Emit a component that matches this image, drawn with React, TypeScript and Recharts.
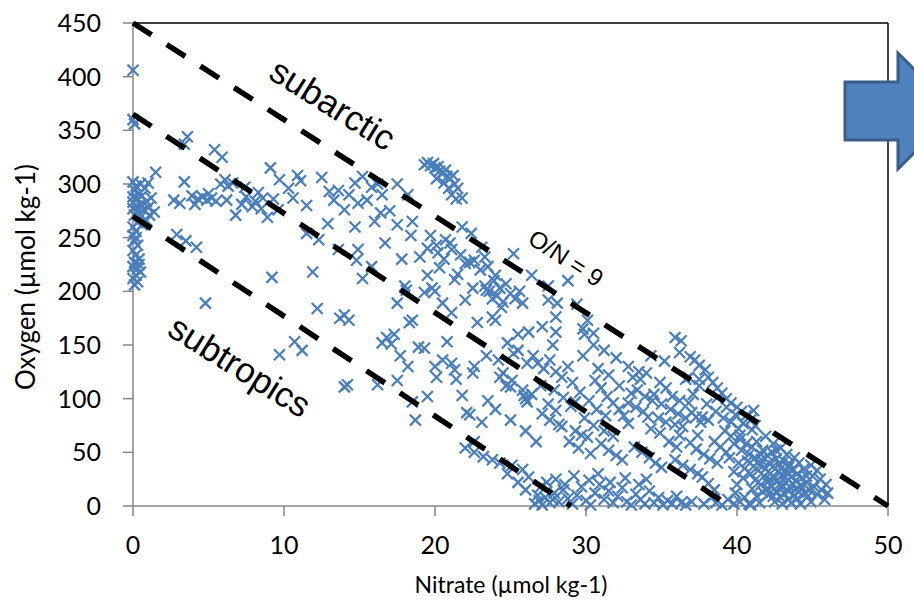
import React from 'react';
import { ScatterChart, Scatter, XAxis, YAxis, ReferenceLine } from 'recharts';

// Nitrate vs oxygen. Each entry is [nitrate, oxygen] in µmol kg-1.

const X_TICKS = [0, 10, 20, 30, 40, 50];
const Y_TICKS = [0, 50, 100, 150, 200, 250, 300, 350, 400, 450];

const surfaceColumn: [number, number][] = [
  [0, 406], [0, 360], [0.1, 356], [0, 302], [0.2, 298], [0.5, 300], [0.1, 294], [0.4, 291],
  [0.8, 296], [1.0, 301], [0, 288], [0.3, 286], [0.6, 289], [1.2, 287], [0, 283], [0.2, 280],
  [0.5, 281], [0.9, 284], [0, 277], [0.3, 275], [0.7, 276], [1.0, 278], [0.1, 271], [0.5, 269],
  [1.1, 271], [1.4, 274], [0.9, 266], [1.5, 311], [0.3, 264], [0, 260], [0.2, 256], [0, 252],
  [0.1, 247], [0.3, 243], [0, 238], [0.2, 234], [0.4, 230], [0.1, 227], [0, 223], [0.3, 221],
  [0.5, 218], [0.2, 215], [0, 212], [0.3, 209], [0.1, 206], [0.4, 225], [0.2, 250], [0.6, 262],
];

const upperBand: [number, number][] = [
  [2.7, 285], [3.1, 282], [3.4, 302], [3.6, 344], [3.4, 337], [2.9, 253], [3.5, 247], [4.2, 241],
  [4.8, 189], [3.9, 289], [4.3, 286], [4.6, 288], [4.9, 285], [5.2, 287], [5.5, 284], [4.1, 281],
  [5.0, 291], [5.4, 332], [5.9, 325], [5.8, 300], [6.1, 304], [6.3, 298], [6.6, 301], [6.8, 271],
  [6.2, 285], [7.2, 281], [7.5, 288], [7.9, 279], [8.1, 284], [8.3, 292], [8.6, 287], [7.4, 297],
  [8.9, 269], [9.1, 315], [9.7, 304], [9.3, 286], [9.6, 276], [8.5, 277], [9.2, 213], [10.9, 308],
  [11.1, 303], [11.5, 280], [11.5, 254], [11.9, 218], [12.2, 184], [10.3, 296], [10.6, 287],
  [12.3, 248], [12.9, 263], [13.0, 293], [10.7, 153], [11.2, 145], [9.7, 141],
];

const midScatter: [number, number][] = [
  [13.6, 294], [14.7, 301], [15.2, 307], [14.9, 282], [14.0, 276], [14.7, 260], [16.4, 273],
  [14.9, 239], [13.6, 239], [15.8, 223], [14.8, 229], [15.2, 212], [13.7, 175], [14.0, 178],
  [14.3, 173], [16.8, 157], [17.1, 151], [16.5, 152], [17.5, 189], [18.5, 173], [17.3, 160],
  [18.5, 97], [19.5, 102], [18.7, 80], [16.2, 113], [17.5, 117], [14.0, 111], [14.2, 113],
  [18.0, 205], [17.0, 275], [16.5, 290], [15.8, 297], [17.5, 300], [18.2, 290], [18.5, 265],
  [16.0, 265], [17.5, 262], [18.4, 252], [19.0, 232], [19.5, 215], [17.8, 230], [16.7, 245],
  [18.9, 148], [19.3, 147], [20.8, 153], [18.2, 130], [17.7, 140], [12.5, 306], [13.3, 285],
  [14.3, 290], [15.5, 285], [16.2, 300], [18.1, 201], [18.3, 171],
];

const clusterNear20: [number, number][] = [
  [19.3, 318], [19.5, 320], [19.7, 317], [19.9, 319], [20.0, 315], [20.2, 316], [20.3, 312],
  [20.5, 310], [20.7, 313], [20.8, 307], [21.0, 305], [21.2, 308], [21.3, 300], [21.5, 296],
  [21.1, 290], [20.6, 301], [21.4, 286], [21.8, 287], [20.1, 305], [20.9, 296],
];

const upperRight: [number, number][] = [
  [19.7, 252], [20.1, 243], [20.7, 248], [21.1, 239], [21.7, 234], [22.3, 227], [20.3, 222],
  [21.3, 211], [19.3, 199], [23.0, 220], [22.0, 192], [19.8, 203], [20.0, 200], [20.5, 189],
  [21.1, 180], [19.5, 240], [20.2, 236], [20.6, 230], [21.0, 245], [21.8, 260], [22.4, 254],
  [23.1, 241], [23.3, 232], [23.5, 223], [22.6, 229], [22.0, 226], [23.3, 205], [23.6, 200],
  [23.9, 210], [24.1, 196], [24.3, 203], [24.5, 190], [24.0, 215], [24.7, 207], [25.0, 198],
  [25.3, 193], [25.6, 200], [25.8, 189], [23.8, 193], [24.4, 185], [22.8, 171], [23.8, 176],
  [24.0, 173], [26.2, 162], [27.1, 167], [28.0, 176], [28.0, 162], [27.5, 192], [28.1, 189],
  [27.5, 205], [28.8, 210], [29.4, 188], [29.9, 160], [30.1, 173], [24.8, 152], [25.5, 145],
  [26.4, 215], [25.2, 235], [22.5, 203], [23.4, 201], [21.5, 216], [29.8, 165], [30.5, 161],
];

const middleBand: [number, number][] = [
  [20.0, 130], [20.5, 136], [21.1, 133], [21.3, 127], [22.5, 124], [22.6, 130], [22.3, 85],
  [23.1, 78], [22.0, 54], [22.6, 50], [23.2, 46], [23.8, 43], [24.3, 120], [24.7, 112],
  [25.1, 117], [24.5, 124], [25.0, 111], [25.8, 108], [26.0, 100], [26.4, 104], [26.1, 97],
  [25.9, 103], [26.8, 133], [27.2, 128], [27.6, 136], [28.0, 125], [28.4, 120], [28.8, 130],
  [27.5, 95], [28.0, 89], [28.5, 101], [29.0, 93], [29.3, 97], [27.1, 86], [27.6, 80],
  [28.2, 76], [28.4, 74], [29.3, 70], [29.7, 66], [30.1, 64], [30.6, 117], [31.0, 110],
  [31.4, 102], [31.8, 96], [32.2, 90], [32.5, 84], [32.8, 77], [31.0, 58], [31.5, 52],
  [32.0, 47], [32.4, 43], [30.5, 150], [31.2, 145], [32.0, 138], [32.8, 130], [33.5, 125],
  [31.5, 122], [30.8, 128], [32.2, 112], [33.0, 105], [29.8, 140], [25.5, 160], [26.5, 140],
  [27.8, 150], [21.8, 103], [23.5, 98], [24.0, 90], [25.0, 80], [26.0, 70], [26.7, 60],
  [23.4, 140], [24.2, 136], [25.2, 142], [26.1, 133], [20.1, 120], [21.4, 118], [22.1, 87],
  [22.6, 60], [24.3, 40], [25.1, 38], [25.8, 34], [26.2, 27], [24.8, 30], [25.5, 22], [26.0, 15],
  [27.0, 112], [27.9, 108], [29.1, 115], [29.6, 106], [30.2, 98], [30.7, 90], [31.3, 84],
  [29.9, 82], [30.5, 75], [31.2, 70], [28.9, 60], [29.5, 54], [30.3, 49], [31.8, 65],
];

const lowerEdge: [number, number][] = [
  [35.9, 157], [36.3, 154], [36.9, 139], [37.2, 136], [37.5, 131], [37.9, 127], [38.1, 120],
  [38.4, 115], [38.7, 110], [39.0, 105], [39.3, 100], [39.6, 96], [40.0, 92], [40.3, 88],
  [40.6, 84], [40.9, 80], [41.2, 75], [41.0, 71], [38.7, 101], [39.3, 92], [39.9, 85],
  [40.4, 77], [41.1, 89], [37.5, 112], [38.0, 95], [36.6, 118], [37.1, 104],
  [33.1, 120], [33.6, 118], [34.0, 124], [34.9, 115], [35.3, 110], [35.7, 102], [36.2, 98],
  [36.8, 96], [34.5, 104], [33.4, 108], [32.8, 96], [33.3, 92], [33.8, 88], [34.1, 83],
  [34.8, 82], [35.3, 78], [35.9, 76], [36.4, 74], [37.0, 87], [37.3, 83], [37.7, 83],
  [38.1, 80], [37.6, 78], [34.3, 72], [34.9, 68], [33.2, 55], [33.7, 50], [34.2, 45],
  [34.6, 40], [35.0, 36], [35.9, 43], [36.4, 38], [36.9, 34], [37.4, 30], [37.7, 27],
  [36.9, 59], [37.3, 53], [37.8, 48], [38.2, 44], [38.7, 40], [38.5, 60], [38.9, 55],
  [39.3, 50], [39.6, 65], [39.2, 70], [38.1, 21], [38.5, 15], [38.3, 8], [35.5, 60], [36.0, 55],
  [34.3, 140], [35.2, 135], [36.2, 143], [36.8, 120], [37.5, 118],
  [35.0, 95], [35.6, 90], [36.1, 86], [36.6, 82], [34.4, 98], [33.9, 102], [38.6, 88],
  [39.1, 82], [39.6, 78], [40.1, 72], [39.8, 58], [40.2, 66], [37.4, 66], [36.2, 66],
];

const deepCluster: [number, number][] = [
  [40.2, 62], [40.6, 58], [41.0, 55], [41.3, 60], [41.7, 52], [40.8, 48], [41.2, 45], [41.6, 43],
  [42.0, 47], [42.3, 50], [42.6, 44], [42.1, 40], [41.5, 38], [41.9, 35], [42.4, 37], [42.8, 39],
  [43.1, 42], [43.4, 36], [42.7, 32], [42.2, 30], [41.8, 28], [42.5, 26], [43.0, 29], [43.3, 31],
  [43.7, 33], [44.0, 30], [43.6, 27], [43.9, 24], [44.3, 26], [44.6, 22], [43.2, 22], [42.8, 20],
  [42.3, 18], [42.0, 22], [41.6, 20], [41.2, 24], [40.9, 30], [40.5, 35], [40.1, 40], [40.7, 42],
  [43.5, 18], [43.9, 16], [44.2, 19], [44.8, 15], [45.1, 18], [44.5, 12], [43.8, 10], [43.1, 12],
  [42.6, 14], [42.1, 11], [41.7, 13], [41.3, 9], [42.9, 8], [43.4, 6], [44.0, 7], [44.7, 9],
  [45.3, 11], [45.6, 15], [45.9, 20], [45.5, 25], [45.0, 28], [44.4, 34], [44.9, 38], [45.3, 33],
  [40.4, 26], [40.0, 20], [39.8, 32], [39.5, 45], [40.3, 52], [41.9, 65], [42.4, 58], [42.9, 54],
  [43.3, 48], [43.8, 45], [44.1, 40], [39.9, 12], [40.5, 8], [41.0, 16], [42.5, 4], [43.0, 2],
  [43.6, 3], [44.2, 2], [44.9, 4], [45.8, 6], [46.0, 12], [41.5, 3], [40.8, 2],
  [42.7, 24], [43.0, 17], [43.7, 21], [44.1, 13], [42.4, 9], [43.2, 27], [41.4, 33], [42.9, 35],
  [43.5, 39], [42.0, 16], [41.1, 37], [44.6, 28], [43.4, 14], [42.2, 25], [41.6, 48], [42.6, 52],
];

const bottomRow: [number, number][] = [
  [26.6, 2], [26.9, 5], [27.1, 1], [27.3, 8], [27.6, 3], [27.9, 12], [28.2, 4], [28.5, 15],
  [28.8, 7], [29.1, 2], [29.4, 10], [29.7, 18], [30.0, 5], [30.3, 1], [30.6, 12], [30.9, 20],
  [31.2, 6], [31.5, 14], [31.8, 3], [32.1, 9], [32.4, 17], [32.7, 4], [33.0, 1], [33.3, 11],
  [33.6, 6], [33.9, 2], [34.2, 14], [34.5, 3], [34.8, 8], [35.1, 1], [35.4, 5], [35.7, 2],
  [36.0, 9], [36.3, 3], [36.6, 1], [37.0, 4], [37.8, 2], [38.6, 3], [39.0, 1], [39.4, 6],
  [39.8, 2], [40.2, 4], [40.9, 1], [27.0, 18], [27.4, 22], [28.0, 25], [28.6, 20], [29.2, 28],
  [30.2, 24], [30.8, 30], [31.6, 22], [32.6, 26], [33.5, 20], [34.0, 25], [26.8, 10], [27.8, 6],
];

// O/N ratio guide lines: [nitrate, oxygen] endpoints
const subarcticLine: [number, number][] = [[0, 450], [50, 0]];
const middleLine: [number, number][] = [[0, 365], [39.5, 0]];
const subtropicsLine: [number, number][] = [[0, 270], [29, 0]];

const MARKER = '#4a7ebb';
const TICK_FONT = 'Lato, "Open Sans", sans-serif';
const LABEL_FONT = '"Liberation Sans", Arial, sans-serif';

const toRows = (pts: [number, number][]) => pts.map(([x, y]) => ({ x, y }));

const points = toRows([
  ...surfaceColumn,
  ...upperBand,
  ...midScatter,
  ...clusterNear20,
  ...upperRight,
  ...middleBand,
  ...lowerEdge,
  ...deepCluster,
  ...bottomRow,
]);

function XMark(props: any) {
  const { cx, cy } = props;
  const r = 5.5;
  return (
    <g>
      <line x1={cx - r} y1={cy - r} x2={cx + r} y2={cy + r} stroke={MARKER} strokeWidth={2.2} />
      <line x1={cx - r} y1={cy + r} x2={cx + r} y2={cy - r} stroke={MARKER} strokeWidth={2.2} />
    </g>
  );
}

const NoMark = () => <g />;

const dash = { stroke: '#000', strokeWidth: 5.5, strokeDasharray: '22 18' };

export default function App() {
  return (
    <div style={{ position: 'absolute', left: 0, top: 0, width: 914, height: 613, background: '#fff' }}>
      <ScatterChart width={914} height={613} margin={{ top: 23, right: 26, bottom: 47, left: 33 }}>
        <XAxis
          type="number"
          dataKey="x"
          domain={[0, 50]}
          ticks={X_TICKS}
          interval={0}
          height={60}
          tickSize={10}
          tickMargin={20}
          axisLine={{ stroke: '#868686', strokeWidth: 1.5 }}
          tickLine={{ stroke: '#868686', strokeWidth: 1.5 }}
          tick={{ fill: '#000', fontSize: 25, fontFamily: TICK_FONT }}
        />
        <YAxis
          type="number"
          dataKey="y"
          domain={[0, 450]}
          ticks={Y_TICKS}
          interval={0}
          width={100}
          tickSize={10}
          tickMargin={22}
          axisLine={{ stroke: '#868686', strokeWidth: 1.5 }}
          tickLine={{ stroke: '#868686', strokeWidth: 1.5 }}
          tick={{ fill: '#000', fontSize: 25, fontFamily: TICK_FONT }}
        />
        <ReferenceLine y={450} stroke="#000" strokeWidth={1.5} />
        <ReferenceLine x={50} stroke="#000" strokeWidth={1.5} />
        <Scatter data={points} shape={XMark} isAnimationActive={false} />
        <Scatter data={toRows(subarcticLine)} line={dash} shape={NoMark} isAnimationActive={false} />
        <Scatter data={toRows(middleLine)} line={dash} shape={NoMark} isAnimationActive={false} />
        <Scatter data={toRows(subtropicsLine)} line={dash} shape={NoMark} isAnimationActive={false} />
      </ScatterChart>
      <svg
        width={914}
        height={613}
        style={{ position: 'absolute', left: 0, top: 0, pointerEvents: 'none' }}
      >
        <text x={511} y={593} textAnchor="middle" fontSize={23} fontFamily={TICK_FONT} fill="#000">
          Nitrate (µmol kg-1)
        </text>
        <text
          transform="translate(35,277) rotate(-90)"
          textAnchor="middle"
          fontSize={26}
          fontFamily={TICK_FONT}
          fill="#000"
        >
          Oxygen (µmol kg-1)
        </text>
        <text
          transform="translate(333,104) rotate(32)"
          textAnchor="middle"
          dominantBaseline="central"
          fontSize={35}
          fontFamily={LABEL_FONT}
          fill="#000"
        >
          subarctic
        </text>
        <text
          transform="translate(240,366) rotate(32)"
          textAnchor="middle"
          dominantBaseline="central"
          fontSize={35}
          fontFamily={LABEL_FONT}
          fill="#000"
        >
          subtropics
        </text>
        <text
          transform="translate(566,258) rotate(33)"
          textAnchor="middle"
          dominantBaseline="central"
          fontSize={24}
          fontFamily={LABEL_FONT}
          fill="#000"
        >
          O/N = 9
        </text>
        <polygon
          points="845,82 898,82 898,53 956,111 898,169 898,140 845,140"
          fill="#4f81bd"
          stroke="#385d8a"
          strokeWidth={3}
        />
      </svg>
    </div>
  );
}
